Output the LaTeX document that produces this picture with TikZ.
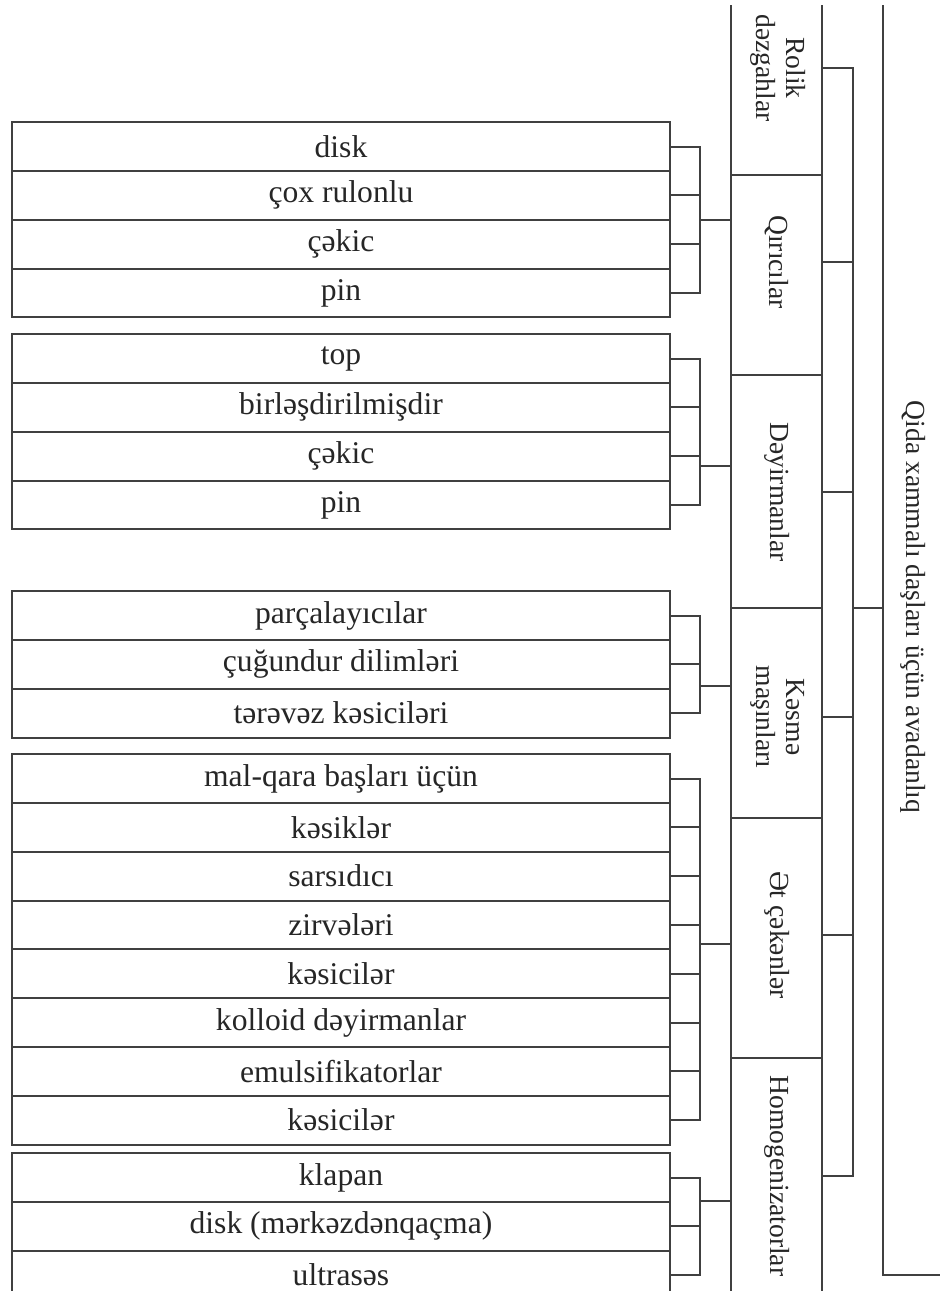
\documentclass[tikz,border=0pt]{standalone}
\usepackage{fontspec}
\setmainfont{Liberation Serif}
\usetikzlibrary{positioning}

\tikzset{
  line/.style={draw=black!75, line width=1pt},
  item/.style={line, minimum width=329pt, minimum height=24.4pt, inner sep=0pt, outer sep=0pt,
    font=\fontsize{15.8}{18}\selectfont, text=black!85},
  catlabel/.style={rotate=-90, align=center, inner sep=0pt, font=\fontsize{13.8}{15}\selectfont, text=black!85},
}

\begin{document}
\begin{tikzpicture}[x=0.5pt, y=-0.5pt]

  \useasboundingbox (0,0) rectangle (940,1291);

  % category column and joints
  \coordinate (colL) at (731,5);
  \coordinate (colR) at (822,5);
  \coordinate (joint) at (853,608);
  \coordinate (rootTL) at (883,5);
  \coordinate (rootBL) at (883,1275);
  \coordinate (rootBR) at (940,1275);

  \draw[line] (colL) -- (731,1291);
  \draw[line] (colR) -- (822,1291);

  \draw[line] (731,175) -- (822,175);
  \draw[line] (731,375) -- (822,375);
  \draw[line] (731,608) -- (822,608);
  \draw[line] (731,818) -- (822,818);
  \draw[line] (731,1058) -- (822,1058);

  \node[catlabel] (rolik) at (778,68) {Rolik\\dəzgahlar};
  \node[catlabel] (qiric) at (777,262) {Qırıcılar};
  \node[catlabel] (deyir) at (777,492) {Dəyirmanlar};
  \node[catlabel] (kesme) at (778,717) {Kəsmə\\maşınları};
  \node[catlabel] (etcek) at (777,935) {Ət çəkənlər};
  \node[catlabel] (homog) at (777,1176) {Homogenizatorlar};

  % second joint and root
  \draw[line] (rolik -| colR) -- (rolik -| joint) -- (homog -| joint) -- (homog -| colR);
  \draw[line] (qiric -| colR) -- (qiric -| joint);
  \draw[line] (deyir -| colR) -- (deyir -| joint);
  \draw[line] (kesme -| colR) -- (kesme -| joint);
  \draw[line] (etcek -| colR) -- (etcek -| joint);
  \draw[line] (joint) -- (joint -| rootTL);

  \draw[line] (rootTL) -- (rootBL) -- (rootBR);
  \node[catlabel] (root) at (913,607) {Qida xammalı daşları üçün avadanlıq};

  % Qırıcılar
  \node[item] (qir1) at (341,146.5) {disk};
  \node[item, below=0pt of qir1] (qir2) {çox rulonlu};
  \node[item, below=0pt of qir2] (qir3) {çəkic};
  \node[item, below=0pt of qir3] (qir4) {pin};

  \coordinate (qirJ) at (700,220);
  \draw[line] (qir1.east) -- (qir1.east -| qirJ) -- (qir4.east -| qirJ) -- (qir4.east);
  \draw[line] (qir2.east) -- (qir2.east -| qirJ);
  \draw[line] (qir3.east) -- (qir3.east -| qirJ);
  \draw[line] (qirJ) -- (qirJ -| colL);

  % Dəyirmanlar
  \node[item] (dey1) at (341,358.5) {top};
  \node[item, below=0pt of dey1] (dey2) {birləşdirilmişdir};
  \node[item, below=0pt of dey2] (dey3) {çəkic};
  \node[item, below=0pt of dey3] (dey4) {pin};

  \coordinate (deyJ) at (700,466);
  \draw[line] (dey1.east) -- (dey1.east -| deyJ) -- (dey4.east -| deyJ) -- (dey4.east);
  \draw[line] (dey2.east) -- (dey2.east -| deyJ);
  \draw[line] (dey3.east) -- (dey3.east -| deyJ);
  \draw[line] (deyJ) -- (deyJ -| colL);

  % Kəsmə maşınları
  \node[item] (kes1) at (341,615.5) {parçalayıcılar};
  \node[item, below=0pt of kes1] (kes2) {çuğundur dilimləri};
  \node[item, below=0pt of kes2] (kes3) {tərəvəz kəsiciləri};

  \coordinate (kesJ) at (700,686);
  \draw[line] (kes1.east) -- (kes1.east -| kesJ) -- (kes3.east -| kesJ) -- (kes3.east);
  \draw[line] (kes2.east) -- (kes2.east -| kesJ);
  \draw[line] (kesJ) -- (kesJ -| colL);

  % Ət çəkənlər
  \node[item] (et1) at (341,778.5) {mal-qara başları üçün};
  \node[item, below=0pt of et1] (et2) {kəsiklər};
  \node[item, below=0pt of et2] (et3) {sarsıdıcı};
  \node[item, below=0pt of et3] (et4) {zirvələri};
  \node[item, below=0pt of et4] (et5) {kəsicilər};
  \node[item, below=0pt of et5] (et6) {kolloid dəyirmanlar};
  \node[item, below=0pt of et6] (et7) {emulsifikatorlar};
  \node[item, below=0pt of et7] (et8) {kəsicilər};

  \coordinate (etJ) at (700,944);
  \draw[line] (et1.east) -- (et1.east -| etJ) -- (et8.east -| etJ) -- (et8.east);
  \draw[line] (et2.east) -- (et2.east -| etJ);
  \draw[line] (et3.east) -- (et3.east -| etJ);
  \draw[line] (et4.east) -- (et4.east -| etJ);
  \draw[line] (et5.east) -- (et5.east -| etJ);
  \draw[line] (et6.east) -- (et6.east -| etJ);
  \draw[line] (et7.east) -- (et7.east -| etJ);
  \draw[line] (etJ) -- (etJ -| colL);

  % Homogenizatorlar
  \node[item] (hom1) at (341,1177.5) {klapan};
  \node[item, below=0pt of hom1] (hom2) {disk (mərkəzdənqaçma)};
  \node[item, below=0pt of hom2] (hom3) {ultrasəs};

  \coordinate (homJ) at (700,1201);
  \draw[line] (hom1.east) -- (hom1.east -| homJ) -- (hom3.east -| homJ) -- (hom3.east);
  \draw[line] (hom2.east) -- (hom2.east -| homJ);
  \draw[line] (homJ) -- (homJ -| colL);

\end{tikzpicture}
\end{document}
